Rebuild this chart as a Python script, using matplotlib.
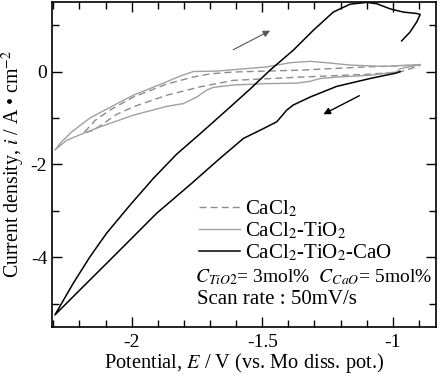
import matplotlib
matplotlib.use("Agg")
import matplotlib.pyplot as plt
from matplotlib.ticker import MultipleLocator

plt.rcParams['font.family'] = ['Liberation Serif', 'DejaVu Serif']
plt.rcParams['mathtext.fontset'] = 'stix'
plt.rcParams['axes.unicode_minus'] = False

# CaCl2 (dashed loop)
cacl2_E = [-0.895, -1.100, -1.355, -1.611, -1.700, -1.766, -1.866, -1.994, -2.083, -2.140, -2.185,
           -2.150, -2.121, -2.057, -1.994, -1.866, -1.738, -1.611, -1.355, -1.100, -0.972, -0.895]
cacl2_i = [0.14, 0.10, 0.03, -0.01, -0.05, -0.12, -0.27, -0.55, -0.83, -1.05, -1.33,
           -1.27, -1.17, -0.92, -0.76, -0.51, -0.33, -0.19, -0.12, -0.06, -0.01, 0.13]

# CaCl2-TiO2 (grey solid loop)
tio2_E = [-0.895, -0.972, -0.985, -1.087, -1.215, -1.278, -1.317, -1.368, -1.483, -1.611,
          -1.687, -1.713, -1.751, -1.802, -1.866, -1.994, -2.121, -2.185, -2.249, -2.294,
          -2.270, -2.230, -2.160, -2.032, -1.994, -1.866, -1.815, -1.764, -1.674, -1.483, -1.393,
          -1.317, -1.253, -1.164, -1.036, -0.895]
tio2_i = [0.15, 0.06, -0.01, -0.08, -0.12, -0.15, -0.21, -0.25, -0.26, -0.29,
          -0.34, -0.40, -0.55, -0.69, -0.75, -0.94, -1.19, -1.33, -1.48, -1.69,
          -1.52, -1.30, -1.00, -0.62, -0.51, -0.22, -0.10, 0.0, 0.01, 0.10, 0.19,
          0.22, 0.19, 0.14, 0.11, 0.15]

# CaCl2-TiO2-CaO (black loop)
cao_E = [-0.972, -0.985, -1.087, -1.215, -1.317, -1.381, -1.406, -1.444, -1.496, -1.572,
         -1.662, -1.777, -1.904, -2.007, -2.096, -2.198, -2.294,
         -2.224, -2.160, -2.096, -2.007, -1.917, -1.828, -1.738, -1.636, -1.547,
         -1.470, -1.381, -1.304, -1.228, -1.164, -1.100, -1.061, -1.010, -0.959, -0.908,
         -0.895, -0.908, -0.934, -0.966]
cao_i = [0.0, -0.03, -0.15, -0.32, -0.55, -0.72, -0.83, -1.08, -1.23, -1.44,
         -1.87, -2.44, -3.05, -3.63, -4.13, -4.70, -5.24,
         -4.56, -3.99, -3.48, -2.88, -2.30, -1.78, -1.34, -0.83, -0.38,
         0.03, 0.46, 0.89, 1.28, 1.45, 1.49, 1.46, 1.35, 1.28, 1.25,
         1.23, 1.07, 0.85, 0.66]

labels = ['CaCl$_2$', 'CaCl$_2$-TiO$_2$', 'CaCl$_2$-TiO$_2$-CaO']

fig = plt.figure(figsize=(4.45, 3.78), dpi=100)
ax = fig.add_axes([0.117, 0.135, 0.863, 0.860])

ax.plot(cacl2_E, cacl2_i, color='#8c8c8c', lw=1.0, dashes=(5, 3), label=labels[0])
ax.plot(tio2_E, tio2_i, color='#a0a0a0', lw=1.0, label=labels[1])
ax.plot(cao_E, cao_i, color='black', lw=1.1, label=labels[2])

# scan direction arrows
ax.annotate('', xy=(-1.470, 0.88), xytext=(-1.611, 0.47),
            arrowprops=dict(arrowstyle='-|>', color='#555555', lw=0.8,
                            mutation_scale=10, shrinkA=0, shrinkB=0))
ax.annotate('', xy=(-1.266, -0.92), xytext=(-1.128, -0.52),
            arrowprops=dict(arrowstyle='-|>', color='black', lw=1.0,
                            mutation_scale=10, shrinkA=0, shrinkB=0))

ax.set_xlim(-2.305, -0.834)
ax.set_ylim(-5.5, 1.5)
ax.xaxis.set_major_locator(MultipleLocator(0.5))
ax.xaxis.set_minor_locator(MultipleLocator(0.1))
ax.yaxis.set_major_locator(MultipleLocator(2))
ax.yaxis.set_minor_locator(MultipleLocator(1))
ax.tick_params(which='both', direction='in', top=True, right=True, labelsize=14, width=1.0)
ax.tick_params(which='major', length=7)
ax.tick_params(which='minor', length=5)
ax.tick_params(axis='x', which='major', pad=5)
ax.xaxis.set_major_formatter(plt.FuncFormatter(lambda v, p: ('%g' % v)))
ax.yaxis.set_major_formatter(plt.FuncFormatter(lambda v, p: ('%g' % v)))
for s in ax.spines.values():
    s.set_linewidth(1.2)

ax.set_xlabel('Potential, $E$ / V (vs. Mo diss. pot.)', fontsize=14.7, labelpad=0)
ax.set_ylabel('Current density, $i$ / A \u2022 cm$^{-2}$', fontsize=14.3, labelpad=3)

ax.legend(loc='lower left', bbox_to_anchor=(0.355, 0.165), frameon=False, fontsize=15,
          handlelength=2.0, handletextpad=0.2, labelspacing=0.05, borderpad=0)
ax.text(0.372, 0.152, '$C_{TiO2}$= 3mol%  $C_{CaO}$= 5mol%', transform=ax.transAxes,
        fontsize=14.0, va='center')
ax.text(0.378, 0.085, 'Scan rate : 50mV/s', transform=ax.transAxes, fontsize=15, va='center')

fig.savefig('out.png', dpi=100)
